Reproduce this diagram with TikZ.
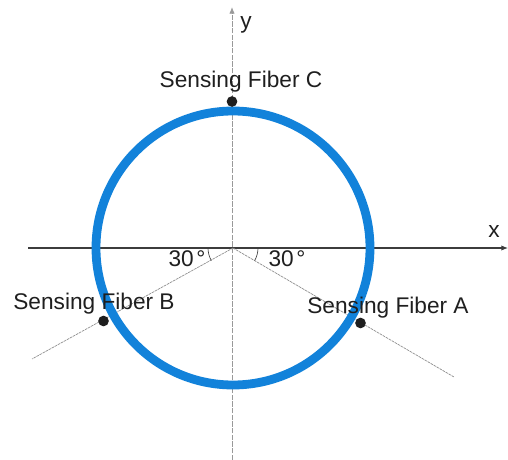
\documentclass[tikz,border=0pt]{standalone}
\usepackage{fontspec}
\setmainfont{Liberation Sans}
\usetikzlibrary{arrows.meta}
\definecolor{ringblue}{RGB}{18,130,218}
\definecolor{axisgray}{RGB}{60,60,60}
\definecolor{dotblack}{RGB}{30,30,30}
\begin{document}
\begin{tikzpicture}[x=0.75pt,y=-0.75pt,
  axisline/.style={draw=axisgray,line width=0.8pt},
  yaxisline/.style={draw=gray!80,line width=0.6pt,dash pattern=on 4pt off 1pt},
  fiberline/.style={draw=gray!90,line width=0.5pt,dash pattern=on 2pt off 0.6pt},
  ring/.style={draw=ringblue,line width=6.6pt},
  fiberdot/.style={circle,fill=dotblack,inner sep=0pt,minimum size=8pt},
  lbl/.style={font=\fontsize{17}{20}\selectfont,text=black!88,inner sep=0pt,anchor=base},
  anglearc/.style={draw=axisgray,line width=0.5pt}]
\useasboundingbox (0,0) rectangle (508,460);
\coordinate (O) at (233,248);
\coordinate (xs) at (28,248);
\coordinate (xe) at (508,248);
\coordinate (ys) at (232,460);
\coordinate (ye) at (232,7);
\coordinate (Bend) at (32,359);
\coordinate (Aend) at (454,377);
% axes
\draw[axisline,-{Latex[length=5pt,width=4pt]}] (xs) -- (xe);
\draw[yaxisline,-{Latex[length=5pt,width=4pt]}] (ys) -- (ye);
% fiber lines
\draw[fiberline] (O) -- (Bend);
\draw[fiberline] (O) -- (Aend);
% ring
\draw[ring] (O) circle[radius=137];
% angle arcs
\draw[anglearc] ([shift={(180:25)}]O) arc[start angle=180,end angle=150,radius=25];
\draw[anglearc] ([shift={(0:25)}]O) arc[start angle=0,end angle=30,radius=25];
% fiber dots
\node[fiberdot] (C) at (232,101.5) {};
\node[fiberdot] (B) at (103.5,321) {};
\node[fiberdot] (A) at (360.5,323) {};
% labels
\node[lbl] (Clbl) at (241,88) {Sensing Fiber C};
\node[lbl] (Blbl) at (94,310) {Sensing Fiber B};
\node[lbl] (Albl) at (388,314) {Sensing Fiber A};
\node[lbl] (ylbl) at (246,29) {y};
\node[lbl] (xlbl) at (494,238) {x};
\node[lbl] (angL) at (187,267) {30\kern2pt°};
\node[lbl] (angR) at (287,267) {30\kern2pt°};
\end{tikzpicture}
\end{document}
